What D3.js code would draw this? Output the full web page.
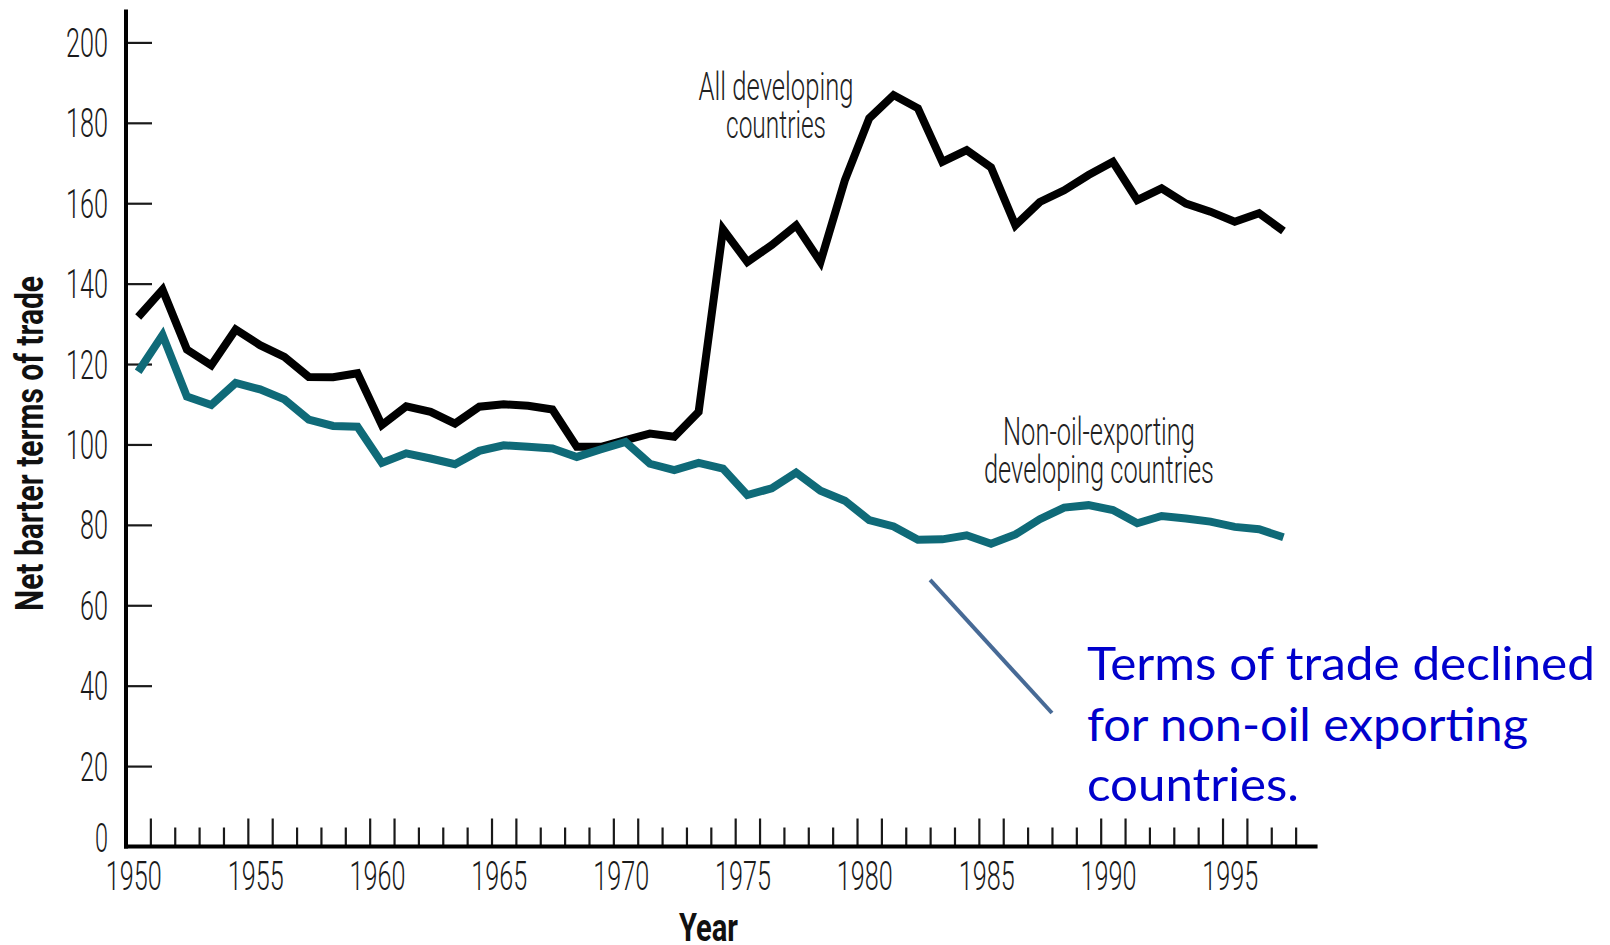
<!DOCTYPE html>
<html>
<head>
<meta charset="utf-8">
<script src="https://cdn.jsdelivr.net/npm/d3@7"></script>
<style>
  html, body { margin: 0; padding: 0; background: #fff; }
  svg { display: block; }
</style>
</head>
<body>
<svg id="chart" width="1610" height="945"></svg>
<script>
// ---------------- data ----------------
const years = d3.range(1950, 1998); // 1950..1997
const allDeveloping = [
  131.7, 138.5, 123.6, 119.7, 128.6, 124.7, 121.8, 116.8, 116.7, 117.7,
  104.8, 109.5, 108.1, 105.2, 109.4, 110.0, 109.6, 108.7, 99.4, 99.4,
  101.1, 102.7, 101.9, 108.1, 153.5, 145.4, 149.6, 154.5, 145.4, 165.7,
  181.1, 186.9, 183.6, 170.3, 173.2, 168.9, 154.5, 160.3, 163.2, 167.0,
  170.3, 160.8, 163.7, 159.9, 157.9, 155.4, 157.5, 153.1
];
const nonOil = [
  118.1, 127.2, 111.9, 109.8, 115.3, 113.7, 111.2, 106.2, 104.6, 104.4,
  95.4, 97.8, 96.5, 95.1, 98.4, 99.8, 99.4, 99.0, 96.9, 98.8,
  100.6, 95.2, 93.6, 95.4, 94.0, 87.4, 89.1, 93.0, 88.5, 86.0,
  81.2, 79.6, 76.3, 76.4, 77.4, 75.3, 77.6, 81.4, 84.3, 84.9,
  83.7, 80.4, 82.2, 81.6, 80.8, 79.5, 78.9, 76.9
];
const yTicks = [0, 20, 40, 60, 80, 100, 120, 140, 160, 180, 200];
const xLabelYears = [1950, 1955, 1960, 1965, 1970, 1975, 1980, 1985, 1990, 1995];
const xTickYears = d3.range(1951, 1999); // year boundaries
const tallTickYears = [1951, 1955, 1956, 1960, 1961, 1965, 1966, 1970, 1971, 1975, 1976,
                       1980, 1981, 1985, 1986, 1990, 1991, 1995, 1996];
const seriesLabels = [
  { lines: ["All developing", "countries"] },
  { lines: ["Non-oil-exporting", "developing countries"] }
];
const noteLines = ["Terms of trade declined", "for non-oil exporting", "countries."];
const pointer = [{ year: 1983, value: 66.3 }, { year: 1988, value: 33.2 }];

// ---------------- scales ----------------
const svg = d3.select("#chart");
svg.append("rect").attr("width", 1610).attr("height", 945).attr("fill", "#fff");

const x = d3.scaleLinear().domain([1950, 1999]).range([126, 1320]);
const y = d3.scaleLinear().domain([0, 200]).range([846.5, 42.4]);

const tickFont = "Roboto, 'Liberation Sans', sans-serif";
const ink = "#1a1a1a";

// ---------------- axes ----------------
// y axis
const yAxis = d3.axisLeft(y).tickValues(yTicks).tickSize(-26).tickPadding(18).tickFormat(d3.format("d"));
const gy = svg.append("g").attr("transform", "translate(126,0)").call(yAxis);
gy.select(".domain").remove();
gy.selectAll(".tick line").attr("stroke", ink).attr("stroke-width", 2.2);
gy.selectAll(".tick text")
  .attr("font-family", tickFont).attr("font-weight", 300).attr("font-size", 40)
  .attr("fill", ink).attr("dy", "0.35em")
  .attr("y", d => d === 0 ? -9 : 0)
  .attr("textLength", d => String(d).length * 14 - (d === 0 ? 1 : 0))
  .attr("lengthAdjust", "spacingAndGlyphs");
gy.selectAll(".tick").filter(d => d === 0).select("line").remove();

// x axis ticks (short and tall)
const shortTicks = xTickYears.filter(d => !tallTickYears.includes(d));
const gxs = svg.append("g").attr("transform", `translate(0,${y(0)})`)
  .call(d3.axisBottom(x).tickValues(shortTicks).tickSize(-19).tickFormat(""));
gxs.select(".domain").remove();
const gxt = svg.append("g").attr("transform", `translate(0,${y(0)})`)
  .call(d3.axisBottom(x).tickValues(tallTickYears).tickSize(-28).tickFormat(""));
gxt.select(".domain").remove();
gxs.selectAll(".tick line").attr("stroke", ink).attr("stroke-width", 2.2);
gxt.selectAll(".tick line").attr("stroke", ink).attr("stroke-width", 2.2);

// x axis labels
const gxl = svg.append("g").attr("transform", `translate(0,${y(0)})`)
  .call(d3.axisBottom(x.copy().domain([1949.7, 1998.7])).tickValues(xLabelYears).tickSize(0).tickFormat(d3.format("d")));
gxl.select(".domain").remove();
gxl.selectAll(".tick text")
  .attr("font-family", tickFont).attr("font-weight", 300).attr("font-size", 40)
  .attr("fill", ink).attr("y", 43.5).attr("dy", 0)
  .attr("textLength", 56).attr("lengthAdjust", "spacingAndGlyphs");

// axis lines
svg.append("line").attr("x1", x(1950)).attr("x2", x(1950)).attr("y1", y(208.2)).attr("y2", y(0) + 2)
  .attr("stroke", "#000").attr("stroke-width", 4);
svg.append("line").attr("x1", x(1950) - 2).attr("x2", x(1998.9)).attr("y1", y(0)).attr("y2", y(0))
  .attr("stroke", "#000").attr("stroke-width", 4);

// axis titles
svg.append("text")
  .attr("transform", "translate(43,611) rotate(-90)")
  .attr("font-family", tickFont).attr("font-weight", 700).attr("font-size", 38)
  .attr("fill", "#111").attr("textLength", 335).attr("lengthAdjust", "spacingAndGlyphs")
  .text("Net barter terms of trade");
svg.append("text")
  .attr("x", 679).attr("y", 941)
  .attr("font-family", tickFont).attr("font-weight", 700).attr("font-size", 38)
  .attr("fill", "#111").attr("textLength", 59).attr("lengthAdjust", "spacingAndGlyphs")
  .text("Year");

// ---------------- lines ----------------
const line = d3.line().x((d, i) => x(years[i] + 0.5)).y(d => y(d));
svg.append("path").datum(allDeveloping).attr("d", line)
  .attr("fill", "none").attr("stroke", "#000").attr("stroke-width", 8)
  .attr("stroke-linejoin", "miter").attr("stroke-miterlimit", 3);
svg.append("path").datum(nonOil).attr("d", line)
  .attr("fill", "none").attr("stroke", "#0f6a78").attr("stroke-width", 8)
  .attr("stroke-linejoin", "miter").attr("stroke-miterlimit", 3);

// ---------------- series labels ----------------
const labelSpecs = [
  { cx: 776, base: 100, widths: [155, 100] },
  { cx: 1099, base: 445, widths: [192, 230] }
];
seriesLabels.forEach((s, k) => {
  s.lines.forEach((t, j) => {
    svg.append("text")
      .attr("x", labelSpecs[k].cx).attr("y", labelSpecs[k].base + j * 38)
      .attr("text-anchor", "middle")
      .attr("font-family", tickFont).attr("font-weight", 300).attr("font-size", 39)
      .attr("fill", "#222")
      .attr("textLength", labelSpecs[k].widths[j]).attr("lengthAdjust", "spacingAndGlyphs")
      .text(t);
  });
});

// ---------------- annotation ----------------
svg.append("line")
  .attr("x1", x(pointer[0].year)).attr("y1", y(pointer[0].value))
  .attr("x2", x(pointer[1].year)).attr("y2", y(pointer[1].value))
  .attr("stroke", "#476a96").attr("stroke-width", 4);

const noteWidths = [508, 441, 212];
noteLines.forEach((t, j) => {
  svg.append("text")
    .attr("x", 1087).attr("y", 680 + j * 60.5)
    .attr("font-family", "Lato, 'Open Sans', sans-serif").attr("font-size", 47)
    .attr("fill", "#0000cc")
    .attr("textLength", noteWidths[j]).attr("lengthAdjust", "spacingAndGlyphs")
    .text(t);
});
</script>
</body>
</html>
